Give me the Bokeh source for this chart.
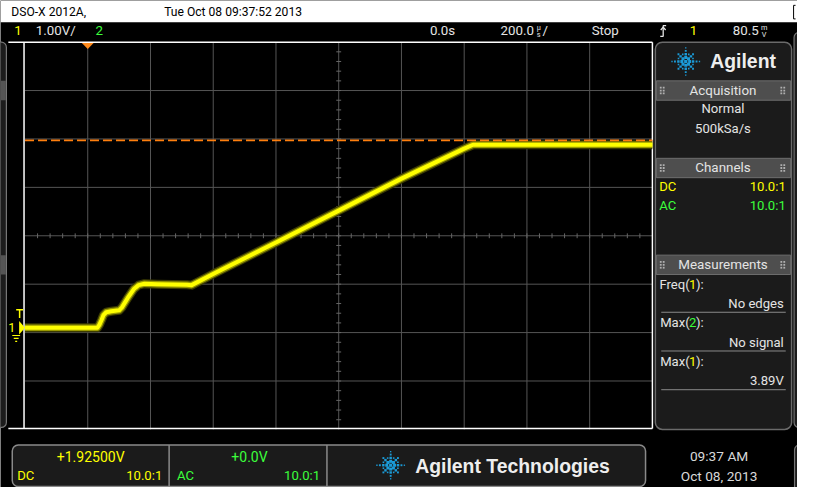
import numpy as np
from bokeh.plotting import figure
from bokeh.models import Range1d
from bokeh.core.properties import value
from bokeh.embed import file_html
from bokeh.resources import INLINE

# ---------------- data ----------------
time_us = [-200, 31, 37, 44, 50, 59, 75, 100, 109, 128, 147, 162, 181, 222,
           316, 331, 409, 600, 800, 1000, 1200, 1228, 1800]
ch1_volts = [0.00, 0.00, 0.06, 0.16, 0.26, 0.32, 0.34, 0.36, 0.42, 0.62, 0.80,
             0.88, 0.91, 0.90, 0.89, 0.88, 1.14, 1.76, 2.42, 3.08, 3.70, 3.78, 3.78]
trigger_level_v = 3.87
time_per_div_us = 200.0
volts_per_div = 1.0
h_divs = 10
v_divs = 8
trigger_div_from_left = 1

header_model = "DSO-X 2012A,"
header_stamp = "Tue Oct 08 09:37:52 2013"
ch1_scale = "1.00V/"
delay_text = "0.0s"
timebase_text = "200.0"
run_state = "Stop"
trig_level_text = "80.5"
acq_mode = ["Normal", "500kSa/s"]
probe_ratio = "10.0:1"
meas_names = [("Freq(", "1", "):"), ("Max(", "2", "):"), ("Max(", "1", "):")]
meas_values = ["No edges", "No signal", "3.89V"]
ch1_offset = "+1.92500V"
ch2_offset = "+0.0V"
clock_time = "09:37 AM"
clock_date = "Oct 08, 2013"

# ---------------- layout (pixels of the 813x503 scope picture) ----------------
REF_W, REF_H = 813, 503
W, H = 797, 487
S = min(W / REF_W, H / REF_H)          # font scale
SCR_L, SCR_R, SCR_T, SCR_B = 25, 665, 43, 443
DIV_W = (SCR_R - SCR_L) / h_divs
DIV_H = (SCR_B - SCR_T) / v_divs
TRIG_X = SCR_L + trigger_div_from_left * DIV_W
GND_Y = 338.0

YEL = "#ffff00"
GRN = "#3cff3c"
TXT = "#e4e4e4"
FONT = "Roboto"
SANS = "Liberation Sans"

p = figure(width=W, height=H, x_range=Range1d(0, REF_W), y_range=Range1d(REF_H, 0),
           output_backend="svg", toolbar_location=None,
           x_axis_location=None, y_axis_location=None, min_border=0)
p.xgrid.visible = False
p.ygrid.visible = False
p.background_fill_color = "black"
p.border_fill_color = "black"
p.outline_line_color = None

# data ranges (time in us, volts) mapped onto the screen area
us_per_px = time_per_div_us / DIV_W
v_per_px = volts_per_div / DIV_H
p.extra_x_ranges = {"t": Range1d((0 - TRIG_X) * us_per_px, (REF_W - TRIG_X) * us_per_px)}
p.extra_y_ranges = {"v": Range1d((GND_Y - REF_H) * v_per_px, (GND_Y - 0) * v_per_px)}


def txt(x, y, s, color=TXT, size=14, align="left", font=FONT, bold=False):
    p.text(x=[x], y=[y], text=[s], text_color=color, text_font=value(font),
           text_font_size=value(f"{size * S:.1f}px"), text_align=align,
           text_baseline="middle", text_font_style="bold" if bold else "normal")


def spark(cx, cy, scale=1.0):
    xs, ys, ss = [cx], [cy], [3.2 * scale]
    for k in range(8):
        a = k * np.pi / 4
        radii = [4, 7.5, 11, 14] if k % 2 == 0 else [4, 7.5, 10.5]
        for i, r in enumerate(radii):
            xs.append(cx + r * scale * np.cos(a))
            ys.append(cy + r * scale * np.sin(a))
            ss.append((3.0 - 0.55 * i) * scale)
    for k in range(8):
        a = k * np.pi / 4 + np.pi / 8
        xs.append(cx + 8 * scale * np.cos(a))
        ys.append(cy + 8 * scale * np.sin(a))
        ss.append(1.6 * scale)
    p.scatter(xs, ys, size=ss, marker="square", color="#1b9ad6", line_color=None)


def grip(x, y):
    gx = [x, x + 3] * 3
    gy = [y - 3, y - 3, y, y, y + 3, y + 3]
    p.scatter(gx, gy, size=1.8, marker="square", color="#b0b0b0", line_color=None)


# ---------------- top white strip ----------------
p.quad(left=0, right=REF_W, top=0, bottom=22.5, color="white", line_color=None)
txt(11, 12, header_model, color="black", size=12.5)
txt(167, 12, header_stamp, color="black", size=12.5)
p.line([811, 809, 809, 811], [5, 5, 19, 19], color="black", line_width=1)

# ---------------- status bar ----------------
SB = 31.5
txt(14, SB, "1", color=YEL, size=13.7)
txt(36, SB, ch1_scale, size=13.7)
txt(97, SB, "2", color=GRN, size=13.7)
txt(438, SB, delay_text, size=13.7)
txt(510, SB, timebase_text, size=13.7)
txt(549, SB - 4, "\u00b5", size=7.5, align="center")
txt(549, SB + 4, "s", size=7.5, align="center")
txt(553, SB, "/", size=13.7)
txt(603, SB, run_state, size=13.7)
p.line([673, 676, 676, 679], [37, 37, 26, 26], color=TXT, line_width=1.3)
p.line([673.5, 676, 678.5], [30.5, 27.5, 30.5], color=TXT, line_width=1.3)
txt(703, SB, "1", color=YEL, size=13.7)
txt(747, SB, trig_level_text, size=13.7)
txt(779, SB - 4, "m", size=7.5, align="center")
txt(779, SB + 4, "V", size=7.5, align="center")

# ---------------- left / right edge strips ----------------
p.quad(left=-6, right=6, top=SCR_T, bottom=SCR_B - 2, fill_color="#1c1c1c",
       line_color="#777777", line_width=1.2, border_radius=5)
for top in (83, 263):
    p.quad(left=0, right=5.5, top=top, bottom=top + 20, fill_color="#555555", line_color=None)
p.quad(left=809.5, right=822, top=SCR_T - 10, bottom=SCR_B - 2, fill_color="#1c1c1c",
       line_color="#777777", line_width=1.2, border_radius=5)
p.quad(left=810, right=822, top=459, bottom=510, fill_color="#1c1c1c",
       line_color="#777777", line_width=1.2, border_radius=5)

# ---------------- screen grid ----------------
vx = SCR_L + DIV_W * np.arange(1, h_divs)
p.segment(x0=vx, y0=SCR_T, x1=vx, y1=SCR_B, color="#555555", line_width=1)
hy = SCR_T + DIV_H * np.arange(1, v_divs)
p.segment(x0=SCR_L, y0=hy, x1=SCR_R, y1=hy, color="#555555", line_width=1)
cx_c = SCR_L + DIV_W * h_divs / 2
cy_c = SCR_T + DIV_H * v_divs / 2
ty = SCR_T + (DIV_H / 5) * np.arange(1, v_divs * 5)
p.segment(x0=cx_c - 2.5, y0=ty, x1=cx_c + 2.5, y1=ty, color="#666666", line_width=1)
tx = SCR_L + (DIV_W / 5) * np.arange(1, h_divs * 5)
p.segment(x0=tx, y0=cy_c - 2.5, x1=tx, y1=cy_c + 2.5, color="#666666", line_width=1)
# white frame
p.line([8, SCR_R], [SCR_T, SCR_T], color="white", line_width=1.5)
p.line([8, SCR_R], [SCR_B - 1, SCR_B - 1], color="white", line_width=1.5)
p.line([SCR_L - 1, SCR_L - 1], [SCR_T, SCR_B - 1], color="white", line_width=1.5)
p.line([SCR_R, SCR_R], [SCR_T, SCR_B - 1], color="white", line_width=1.5)

# trigger position marker
p.patch([TRIG_X - 6, TRIG_X + 6, TRIG_X], [SCR_T + 1, SCR_T + 1, SCR_T + 7],
        color="#ff8a1c", line_color=None)

# ---------------- waveform ----------------
p.line(time_us, ch1_volts, x_range_name="t", y_range_name="v",
       color="#3c3c00", line_width=9, line_join="round")
p.line(time_us, ch1_volts, x_range_name="t", y_range_name="v",
       color="#9a9a00", line_width=6.5, line_join="round")
p.line(time_us, ch1_volts, x_range_name="t", y_range_name="v",
       color="#ffff00", line_width=4, line_join="round")
t_left = (SCR_L - TRIG_X) * us_per_px
t_right = (SCR_R - TRIG_X) * us_per_px
p.segment(x0=[t_left], y0=[trigger_level_v], x1=[t_right], y1=[trigger_level_v],
          x_range_name="t", y_range_name="v", color="#ff7f0e",
          line_width=1.6, line_dash="9 4")

# channel 1 ground marker
p.patch([19, 19, 25], [331, 345, 338], color=YEL, line_color=None)
p.segment(x0=[16, 19.5], y0=[319.5, 319.5], x1=[23, 19.5], y1=[319.5, 328],
          color=YEL, line_width=1.5)
txt(11.5, 338, "1", color=YEL, size=13, align="center")
p.segment(x0=[12, 13.5, 15], y0=[346, 349, 352], x1=[20, 18.5, 17], y1=[346, 349, 352],
          color=YEL, line_width=1.2)

# ---------------- right side panel ----------------
p.quad(left=668, right=807, top=SCR_T, bottom=SCR_B, fill_color="#1b1b1b",
       line_color="#6a6a6a", line_width=1.5, border_radius=7)
spark(699, 63, 1.0)
txt(724, 63, "Agilent", color="#eeeeee", size=20, font=SANS, bold=True)
for top, title in [(83, "Acquisition"), (163, "Channels"), (263, "Measurements")]:
    p.quad(left=669, right=806, top=top, bottom=top + 20, fill_color="#4e4e4e",
           line_color="#6e6e6e", line_width=1)
    txt(737, top + 10, title, size=13.8, align="center")
    grip(673.5, top + 10)
    grip(796.5, top + 10)
txt(737, 112, acq_mode[0], size=13.5, align="center")
txt(737, 132, acq_mode[1], size=13.5, align="center")
txt(672, 192, "DC", color=YEL, size=13.5)
txt(801, 192, probe_ratio, color=YEL, size=13.5, align="right")
txt(672, 212, "AC", color=GRN, size=13.5)
txt(801, 212, probe_ratio, color=GRN, size=13.5, align="right")

for i, ((a, ch, b), val) in enumerate(zip(meas_names, meas_values)):
    y = 293 + 40 * i
    txt(703, y, a, size=13.5, align="right")
    txt(706, y, ch, color=YEL if ch == "1" else GRN, size=13.5, align="center")
    txt(709.5, y, b, size=13.5)
    txt(799, y + 20, val, size=13.5, align="right")
    p.line([674, 801], [y + 29, y + 29], color="#8a8a8a", line_width=1)

# ---------------- footer ----------------
p.quad(left=12, right=658, top=459, bottom=502, fill_color="#1b1b1b",
       line_color="#8a8a8a", line_width=1.5, border_radius=6)
p.segment(x0=[172, 333], y0=[459, 459], x1=[172, 333], y1=[502, 502],
          color="#8a8a8a", line_width=1.5)
txt(92, 472, ch1_offset, color=YEL, size=14.5, align="center")
txt(17, 491, "DC", color=YEL, size=13.5)
txt(165, 491, probe_ratio, color=YEL, size=13.5, align="right")
txt(254, 472, ch2_offset, color=GRN, size=14.5, align="center")
txt(180, 491, "AC", color=GRN, size=13.5)
txt(326, 491, probe_ratio, color=GRN, size=13.5, align="right")
spark(398, 480, 1.0)
txt(423, 481, "Agilent Technologies", color="#eeeeee", size=20, font=SANS, bold=True)
txt(733, 470, clock_time, color="#d8d8d8", size=14.2, align="center")
txt(733, 491, clock_date, color="#d8d8d8", size=14.2, align="center")

open("out.html", "w").write(file_html(p, INLINE))
